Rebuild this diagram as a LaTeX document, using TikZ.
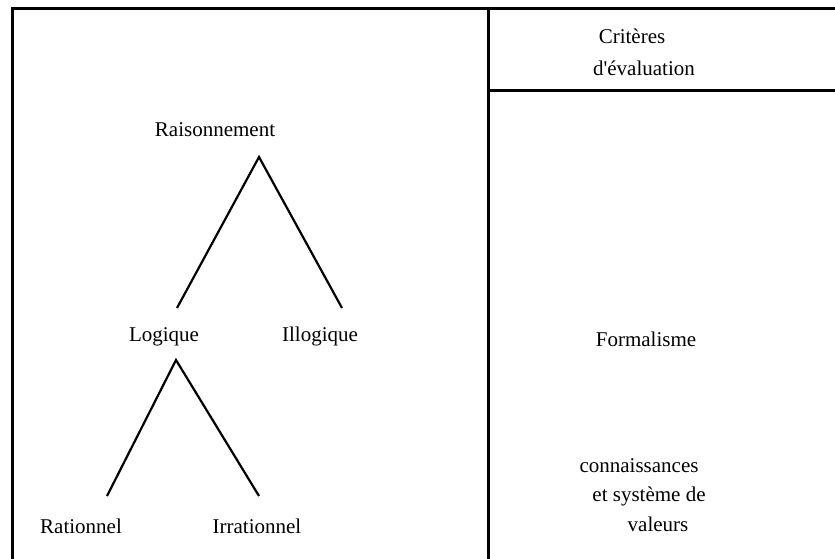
\documentclass[tikz,border=0pt]{standalone}
\usepackage{fontspec}
\setmainfont{Liberation Serif}
\newfontfamily\straightfont{Liberation Serif}
\begin{document}
\begin{tikzpicture}[x=1pt,y=-1pt,
  lbl/.style={inner sep=0pt,anchor=base,font=\fontsize{21}{25}\selectfont},
  frame/.style={line width=3pt},
  branch/.style={line width=2.2pt}]
\useasboundingbox (0,0) rectangle (835,559);
% frame
\coordinate (tl) at (12.5,8.5);
\coordinate (tr) at (835,8.5);
\coordinate (bl) at (12.5,559);
\coordinate (dtop) at (488,8.5);
\coordinate (dbot) at (488,559);
\coordinate (hl) at (488,90.5);
\coordinate (hr) at (835,90.5);
\draw[frame] (bl) -- (tl) -- (tr);
\draw[frame] (dtop) -- (dbot);
\draw[frame] (hl) -- (hr);
% right column texts
\node[lbl] (crit) at (632,44) {Critères};
\node[lbl] (eval) at (644,76) {\straightfont d'évaluation};
\node[lbl] (form) at (646,346) {Formalisme};
\node[lbl] (conn) at (639,472) {connaissances};
\node[lbl] (syst) at (649,501) {et système de};
\node[lbl] (val) at (658,531) {valeurs};
% tree
\node[lbl] (rais) at (215,136) {Raisonnement};
\node[lbl] (logi) at (164,341) {Logique};
\node[lbl] (illo) at (320,341) {Illogique};
\node[lbl] (rati) at (81,533) {Rationnel};
\node[lbl] (irra) at (257,533) {Irrationnel};
\coordinate (a1) at (259,157);
\coordinate (l1) at (177,308);
\coordinate (r1) at (342,308);
\coordinate (a2) at (176,360);
\coordinate (l2) at (107,496);
\coordinate (r2) at (259,496);
\draw[branch] (l1) -- (a1) -- (r1);
\draw[branch] (l2) -- (a2) -- (r2);
\end{tikzpicture}
\end{document}
